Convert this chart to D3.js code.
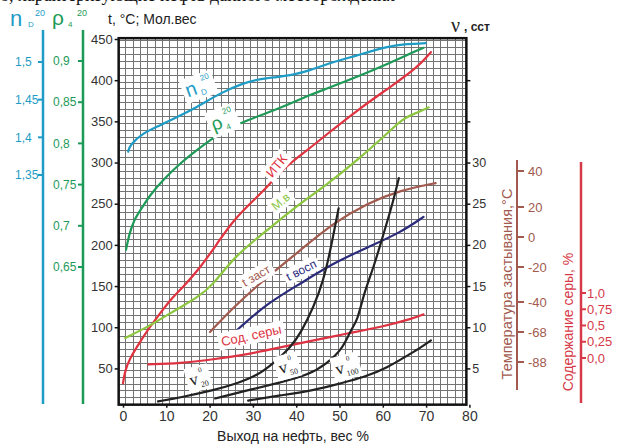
<!DOCTYPE html>
<html>
<head>
<meta charset="utf-8">
<script src="https://cdn.jsdelivr.net/npm/d3@7"></script>
<style>
body { margin: 0; background: #fff; }
svg { display: block; font-family: "Liberation Sans", Arial, sans-serif; }
</style>
</head>
<body>
<svg id="chart" width="619" height="444"></svg>
<script>
// tick values of every axis
const xTicks = [0, 10, 20, 30, 40, 50, 60, 70, 80];
const tTicks = [50, 100, 150, 200, 250, 300, 350, 400, 450];
const nuTicks = [5, 10, 15, 20, 25, 30, 35, 40];
const nuLabelled = [5, 10, 15, 20, 25, 30];
const ndTicks = [1.35, 1.4, 1.45, 1.5];
const rhoTicks = [0.65, 0.7, 0.75, 0.8, 0.85, 0.9];
const pourTicks = [40, 20, 0, -20, -40, -68, -88];
const sulfurTicks = [0, 0.25, 0.5, 0.75, 1.0];
const sulfurTickLabels = ['0,0', '0,25', '0,5', '0,75', '1,0'];

// refractive index n_D^20
const ndYield = [1.2, 1.6, 4.6, 8.6, 12.5, 17.1, 22.5, 27.8, 31, 35.6, 39.4, 43.3, 46.3, 54.2, 61.1, 65.7, 69.9];
const ndValues = [1.381, 1.390, 1.406, 1.416, 1.427, 1.440, 1.459, 1.472, 1.477, 1.480, 1.483, 1.489, 1.496, 1.509, 1.521, 1.524, 1.525];

// density rho_4^20
const rhoYield = [0.7, 1.4, 2.5, 4.4, 6.2, 9.3, 13.2, 17.1, 20.8, 24.8, 28.7, 33.3, 38, 43.3, 46.3, 54.2, 61.8, 67.1, 69.4];
const rhoValues = [0.671, 0.689, 0.707, 0.722, 0.737, 0.756, 0.776, 0.792, 0.807, 0.819, 0.828, 0.837, 0.847, 0.859, 0.865, 0.881, 0.898, 0.911, 0.916];

// TBP curve (ИТК), °C
const itkYield = [0, 0.5, 1.6, 3.2, 5.6, 8.6, 10.9, 13.9, 17.8, 21.8, 25.5, 30.1, 33.3, 37, 43.3, 46.3, 54.2, 61.8, 68.1, 71.1];
const itkValues = [32, 48, 62, 76, 96, 117, 133, 149, 172, 202, 230, 254, 270, 293, 318, 331, 364, 392, 416, 434];

// molecular weight (М.в)
const mwYield = [0.5, 5.6, 9.3, 13.2, 17.1, 20.8, 25.5, 33.3, 41, 46.3, 54.2, 61.8, 64.8, 68.1, 70.6];
const mwValues = [87, 100, 112, 124, 136, 151, 185, 218, 251, 270, 303, 339, 354, 361, 367];

// pour point (t заст), °C on its own scale
const pourYield = [20.1, 25.5, 33.3, 41, 48.6, 56.5, 64.1, 72.2];
const pourValues = [-68, -44.7, -25.7, -8.7, 9.3, 22.2, 29.4, 33.3];

// flash point (t восп), °C
const flashYield = [26.4, 33.3, 41, 48.6, 56.5, 64.1, 69.4];
const flashValues = [97, 129, 153, 178, 197, 215, 234];

// sulphur content, read against the main grid
const sulfurYield = [5.8, 13.2, 20.8, 28.7, 36.3, 44, 51.9, 59.5, 67.1, 69.4];
const sulfurGrid = [55, 56, 61, 67, 75.5, 84, 92.6, 100, 110.8, 115.6];

// kinematic viscosity, cSt
const nu20Yield = [8.1, 13.2, 20.8, 26.4, 31, 34.7, 38.7, 41, 44, 46.3, 47.9, 49.1, 49.8];
const nu20Values = [0.99, 1.47, 2.33, 3.18, 4.15, 5.6, 7.55, 9.26, 12.4, 15.7, 19.35, 22.6, 24.45];
const nu50Yield = [21.3, 28.7, 36.3, 42.6, 47.2, 50.9, 52.5, 54.2, 55.6, 57.9, 60.2, 62.3, 63.7];
const nu50Values = [1.35, 2.33, 3.3, 4.15, 5.6, 7.55, 9.6, 10.84, 14.1, 17.28, 21.4, 25.06, 28.1];
const nu100Yield = [28.9, 36.3, 44, 50.2, 55.6, 61.1, 65.7, 68.8, 71.1];
const nu100Values = [1.1, 1.72, 2.33, 3.18, 3.9, 5.1, 6.58, 7.55, 8.4];

const svg = d3.select('#chart');

const x = d3.scaleLinear().domain([0, 80]).range([123, 469.4]);
const y = d3.scaleLinear().domain([0, 450]).range([409.6, 39]);
const nuY = d3.scaleLinear().domain([0, 45]).range([409.6, 39]);
const ndY = d3.scaleLinear().domain([1.35, 1.5]).range([175, 62]);
const rhoY = d3.scaleLinear().domain([0.65, 0.9]).range([267, 61]);
const pourY = d3.scaleLinear().domain(pourTicks).range([171, 207, 237, 267, 302, 332, 362]);
const sulfurY = d3.scaleLinear().domain([0, 1]).range([358, 293]);

const plotLeft = x(-1), plotRight = x(79.3), plotTop = y(451), plotBottom = y(6);

// clipped bottom of the caption line above the figure
svg.append('text')
    .attr('x', 0).attr('y', 1)
    .style('font-family', '"Liberation Serif", "Times New Roman", serif')
    .style('font-size', '18px')
    .attr('fill', '#111')
    .text('о, характеризующие нефть данного месторождения');

// graph paper
const grid = svg.append('g').attr('shape-rendering', 'crispEdges');
grid.selectAll('.vline')
    .data(d3.range(-1 + 1.69, 79.3, 1.69))
    .enter()
    .append('line')
    .attr('x1', d => x(d)).attr('x2', d => x(d))
    .attr('y1', plotTop).attr('y2', plotBottom)
    .style('stroke', '#737373').style('stroke-width', '1px');
grid.selectAll('.hline')
    .data(d3.range(6 + 50 / 6, 451, 50 / 6))
    .enter()
    .append('line')
    .attr('x1', plotLeft).attr('x2', plotRight)
    .attr('y1', d => y(d)).attr('y2', d => y(d))
    .style('stroke', '#737373').style('stroke-width', '1px');

// curves
const curves = [
    { xs: ndYield, ys: ndValues, scale: ndY, color: '#1e9cc6' },
    { xs: rhoYield, ys: rhoValues, scale: rhoY, color: '#1d9a58' },
    { xs: itkYield, ys: itkValues, scale: y, color: '#e0323f' },
    { xs: mwYield, ys: mwValues, scale: y, color: '#8cc63f' },
    { xs: pourYield, ys: pourValues, scale: pourY, color: '#a25a4e' },
    { xs: flashYield, ys: flashValues, scale: y, color: '#2b2b7c' },
    { xs: sulfurYield, ys: sulfurGrid, scale: y, color: '#dc3241' },
    { xs: nu20Yield, ys: nu20Values, scale: nuY, color: '#222' },
    { xs: nu50Yield, ys: nu50Values, scale: nuY, color: '#222' },
    { xs: nu100Yield, ys: nu100Values, scale: nuY, color: '#222' }
];

curves.forEach(c => {
    const line = d3.line()
        .x(d => x(d[0]))
        .y(d => c.scale(d[1]))
        .curve(d3.curveBasis);
    svg.append('path')
        .datum(d3.zip(c.xs, c.ys))
        .attr('d', line)
        .attr('fill', 'none')
        .style('stroke', c.color)
        .style('stroke-width', '2.2px')
        .style('stroke-linecap', 'round');
});

// curve labels on white patches
function curveLabel (px, py, angle, parts) {
    const g = svg.append('g')
        .attr('transform', 'translate(' + x(px) + ',' + y(py) + ') rotate(' + angle + ')');
    const bg = g.append('rect').attr('fill', '#fff');
    parts.forEach(p => {
        g.append('text')
            .attr('x', p.dx || 0).attr('y', p.dy || 0)
            .style('font-size', p.size + 'px')
            .style('font-family', p.serif ? '"Liberation Serif", "Times New Roman", serif' : null)
            .attr('fill', p.color)
            .text(p.text);
    });
    const b = g.node().getBBox();
    bg.attr('x', b.x - 3).attr('y', b.y - 1).attr('width', b.width + 6).attr('height', b.height + 2);
}

curveLabel(15.0, 379, -20, [
    { text: 'n', size: 20, color: '#1e9cc6' },
    { text: 'D', size: 8, dx: 14, dy: 3, color: '#1e9cc6' },
    { text: '20', size: 8, dx: 18, dy: -11, color: '#1e9cc6' }
]);
curveLabel(21.0, 338, -22, [
    { text: 'ρ', size: 19, color: '#1d9a58' },
    { text: '4', size: 8, dx: 13, dy: 4, color: '#1d9a58' },
    { text: '20', size: 8, dx: 15, dy: -12, color: '#1d9a58' }
]);
curveLabel(34.4, 281, -50, [{ text: 'ИТК', size: 13, color: '#e0323f' }]);
curveLabel(35.3, 241, -40, [{ text: 'М.в', size: 12, color: '#8cc63f' }]);
curveLabel(28.2, 149, -30, [{ text: 't заст', size: 12, color: '#a25a4e' }]);
curveLabel(38.3, 156, -27, [{ text: 't восп', size: 12, color: '#2b2b7c' }]);
curveLabel(22.9, 77, -12, [{ text: 'Сод. серы', size: 13, color: '#dc3241' }]);
curveLabel(15.7, 28.7, -15, [
    { text: 'v', size: 17, serif: true, color: '#222' },
    { text: '20', size: 8, dx: 10, dy: 4, serif: true, color: '#222' },
    { text: '0', size: 7, dx: 11, dy: -11, serif: true, color: '#222' }
]);
curveLabel(36.3, 43.2, -15, [
    { text: 'v', size: 17, serif: true, color: '#222' },
    { text: '50', size: 8, dx: 10, dy: 4, serif: true, color: '#222' },
    { text: '0', size: 7, dx: 11, dy: -11, serif: true, color: '#222' }
]);
curveLabel(49.4, 42, -15, [
    { text: 'v', size: 17, serif: true, color: '#222' },
    { text: '100', size: 8, dx: 10, dy: 4, serif: true, color: '#222' },
    { text: '0', size: 7, dx: 13, dy: -11, serif: true, color: '#222' }
]);

// plot frame
svg.append('rect')
    .attr('x', plotLeft).attr('y', plotTop)
    .attr('width', plotRight - plotLeft).attr('height', plotBottom - plotTop)
    .attr('fill', 'none')
    .style('stroke', '#111').style('stroke-width', '2.5px');

// main axes
const styleAxis = (g, size, color) => {
    g.select('.domain').remove();
    g.selectAll('.tick line').style('stroke', '#111').style('stroke-width', '1.5px');
    g.selectAll('.tick text').style('font-size', size + 'px').style('fill', color)
        .style('font-family', '"Liberation Sans", Arial, sans-serif');
};

svg.append('g')
    .attr('transform', 'translate(' + plotLeft + ',0)')
    .call(d3.axisLeft(y).tickValues(tTicks).tickSize(4).tickPadding(2))
    .call(g => styleAxis(g, 13, '#333'));

svg.append('g')
    .attr('transform', 'translate(0,' + plotBottom + ')')
    .call(d3.axisBottom(x).tickValues(xTicks).tickSize(3).tickPadding(3))
    .call(g => styleAxis(g, 14, '#333'));

svg.append('g')
    .attr('transform', 'translate(' + plotRight + ',0)')
    .call(d3.axisRight(nuY).tickValues(nuTicks).tickSize(4).tickPadding(2)
        .tickFormat(d => nuLabelled.includes(d) ? d : ''))
    .call(g => styleAxis(g, 12.5, '#333'));

// secondary scales on the left
function sideAxis (ax, ticks, scale, fmt, color, labelX) {
    const g = svg.append('g');
    g.append('line')
        .attr('x1', ax).attr('x2', ax).attr('y1', 30).attr('y2', 404)
        .style('stroke', color).style('stroke-width', '2.5px');
    g.selectAll('.t').data(ticks).enter().append('line')
        .attr('x1', ax - 5).attr('x2', ax).attr('y1', d => scale(d)).attr('y2', d => scale(d))
        .style('stroke', color).style('stroke-width', '2px');
    g.selectAll('.l').data(ticks).enter().append('text')
        .attr('x', labelX).attr('y', d => scale(d)).attr('dy', '0.35em')
        .style('font-size', '12px').attr('fill', color)
        .text(fmt);
}
const comma = d => String(d).replace('.', ',');
sideAxis(43, ndTicks, ndY, comma, '#1e9cc6', 15);
sideAxis(83, rhoTicks, rhoY, comma, '#1d9a58', 53);

// pour point axis
const pour = svg.append('g');
pour.append('line')
    .attr('x1', 517).attr('x2', 517).attr('y1', 160).attr('y2', 390)
    .style('stroke', '#a25a4e').style('stroke-width', '2px');
pour.selectAll('.t').data(pourTicks).enter().append('line')
    .attr('x1', 517).attr('x2', 524).attr('y1', d => pourY(d)).attr('y2', d => pourY(d))
    .style('stroke', '#a25a4e').style('stroke-width', '2px');
pour.selectAll('.l').data(pourTicks).enter().append('text')
    .attr('x', 528).attr('y', d => pourY(d)).attr('dy', '0.35em')
    .style('font-size', '13px').attr('fill', '#a25a4e')
    .text(d => d);
pour.append('text')
    .attr('transform', 'translate(512,284) rotate(-90)')
    .attr('text-anchor', 'middle')
    .style('font-size', '14.5px').attr('fill', '#a25a4e')
    .text('Температура застывания,°С');

// sulphur axis
const sul = svg.append('g');
sul.append('line')
    .attr('x1', 581).attr('x2', 581).attr('y1', 162).attr('y2', 403)
    .style('stroke', '#d63a48').style('stroke-width', '2.5px');
sul.selectAll('.t').data(sulfurTicks).enter().append('line')
    .attr('x1', 581).attr('x2', 586).attr('y1', d => sulfurY(d)).attr('y2', d => sulfurY(d))
    .style('stroke', '#d63a48').style('stroke-width', '2px');
sul.selectAll('.l').data(sulfurTicks).enter().append('text')
    .attr('x', 587).attr('y', d => sulfurY(d)).attr('dy', '0.35em')
    .style('font-size', '13px').attr('fill', '#d63a48')
    .text((d, i) => sulfurTickLabels[i]);
sul.append('text')
    .attr('transform', 'translate(573,322) rotate(-90)')
    .attr('text-anchor', 'middle')
    .style('font-size', '14px').attr('fill', '#d63a48')
    .text('Содержание серы, %');

// headers
svg.append('text').attr('x', 10).attr('y', 26).style('font-size', '22px').attr('fill', '#1e9cc6').text('n');
svg.append('text').attr('x', 28).attr('y', 27).style('font-size', '8px').attr('fill', '#1e9cc6').text('D');
svg.append('text').attr('x', 35).attr('y', 16).style('font-size', '9px').attr('fill', '#1e9cc6').text('20');
svg.append('text').attr('x', 52).attr('y', 25).style('font-size', '21px').attr('fill', '#1d9a58').text('ρ');
svg.append('text').attr('x', 68).attr('y', 27).style('font-size', '8px').attr('fill', '#1d9a58').text('4');
svg.append('text').attr('x', 77).attr('y', 16).style('font-size', '9px').attr('fill', '#1d9a58').text('20');
svg.append('text').attr('x', 108).attr('y', 24).style('font-size', '14px').attr('fill', '#222').text('t, °C; Мол.вес');
svg.append('text').attr('x', 451).attr('y', 32)
    .style('font-family', '"Liberation Serif", "Times New Roman", serif')
    .style('font-size', '20px').attr('fill', '#222').text('ν');
svg.append('text').attr('x', 464).attr('y', 31).style('font-size', '12px').style('font-weight', 'bold')
    .attr('fill', '#222').text(', сст');

svg.append('text')
    .attr('x', 293).attr('y', 441)
    .attr('text-anchor', 'middle')
    .style('font-size', '14px').attr('fill', '#222')
    .text('Выход на нефть, вес %');
</script>
</body>
</html>
